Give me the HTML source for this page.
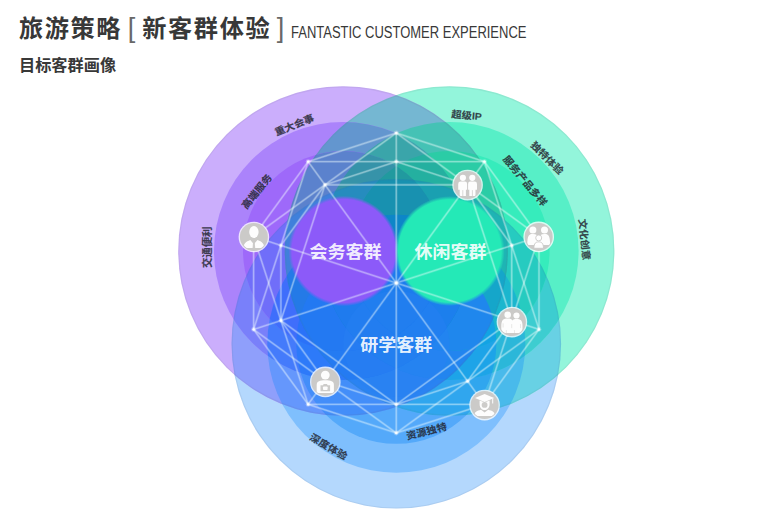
<!DOCTYPE html>
<html lang="zh"><head><meta charset="utf-8"><title>旅游策略</title>
<style>
html,body{margin:0;padding:0;background:#fff;}
body{width:760px;height:513px;overflow:hidden;position:relative;font-family:"Liberation Sans","Noto Sans CJK SC",sans-serif;}
svg{position:absolute;left:0;top:0;display:block}
.t1{position:absolute;left:19px;top:14.9px;white-space:nowrap;font-size:16px;color:#383838;line-height:1;}
.t1 span{display:inline-block;vertical-align:baseline}
.t1 .cn{font-size:24.2px;font-weight:700;letter-spacing:1.6px}
.t1 .br{font-size:27px;font-weight:400;color:#686868;position:relative;top:0.2px}
.t1 .en{position:relative;top:1.4px;font-size:15.8px;font-weight:400;letter-spacing:0px;margin-left:1.95px;transform:scaleX(0.822);transform-origin:0 50%}
.t2{position:absolute;left:19px;top:56.6px;font-size:16.2px;font-weight:700;color:#383838;line-height:1;white-space:nowrap;letter-spacing:0px}
.lab{font-family:"Liberation Sans","Noto Sans CJK SC",sans-serif;font-weight:700;font-size:10.4px;fill:#22242e;fill-opacity:0.84;stroke:#22242e;stroke-width:0.35;stroke-opacity:0.4;stroke-linejoin:round}
.big{font-family:"Liberation Sans","Noto Sans CJK SC",sans-serif;font-weight:700;font-size:18px;fill:#fff;fill-opacity:0.9}
</style></head><body>
<div class="t1"><span class="cn">旅游策略</span> <span class="br" style="margin-left:1.15px">[</span> <span class="cn" style="margin-left:2.55px">新客群体验</span> <span class="br" style="margin-left:1.15px">]</span> <span class="en">FANTASTIC CUSTOMER EXPERIENCE</span></div>
<div class="t2">目标客群画像</div>
<svg width="760" height="513" viewBox="0 0 760 513">
<defs>
<clipPath id="P1"><circle cx="343.0" cy="251.0" r="164.8"/></clipPath>
<clipPath id="P2"><circle cx="343.0" cy="251.0" r="129.0"/></clipPath>
<clipPath id="P3"><circle cx="343.0" cy="251.0" r="100.0"/></clipPath>
<clipPath id="P4"><circle cx="343.6" cy="251.0" r="53.4"/></clipPath>
<clipPath id="G1"><circle cx="449.6" cy="251.0" r="164.8"/></clipPath>
<clipPath id="G2"><circle cx="449.6" cy="251.0" r="129.0"/></clipPath>
<clipPath id="G3"><circle cx="449.6" cy="251.0" r="100.0"/></clipPath>
<clipPath id="G4"><circle cx="449.8" cy="251.0" r="53.1"/></clipPath>
<clipPath id="B1"><circle cx="396.3" cy="343.8" r="164.8"/></clipPath>
<clipPath id="B2"><circle cx="396.3" cy="343.8" r="129.0"/></clipPath>
<clipPath id="B3"><circle cx="396.3" cy="343.8" r="100.0"/></clipPath>
<clipPath id="B4"><circle cx="396.3" cy="344.0" r="53.0"/></clipPath>
<clipPath id="icclip"><circle r="13.100000000000001"/></clipPath>
<radialGradient id="gradP" cx="0.5" cy="0.5" r="0.5"><stop offset="0" stop-color="#8c5af9"/><stop offset="0.9348" stop-color="#8c5af9"/><stop offset="0.9674" stop-color="#8c5af9" stop-opacity="0.5"/><stop offset="1" stop-color="#8c5af9" stop-opacity="0"/></radialGradient>
<radialGradient id="gradG" cx="0.5" cy="0.5" r="0.5"><stop offset="0" stop-color="#24e9b7"/><stop offset="0.9344" stop-color="#24e9b7"/><stop offset="0.9672" stop-color="#24e9b7" stop-opacity="0.5"/><stop offset="1" stop-color="#24e9b7" stop-opacity="0"/></radialGradient>
</defs>
<g>
<circle cx="396.3" cy="343.8" r="164.8" fill="#b4d8fd"/>
<circle cx="449.6" cy="251.0" r="164.8" fill="#93f5db"/>
<circle cx="343.0" cy="251.0" r="164.8" fill="#cbaefc"/>
<circle cx="396.3" cy="343.8" r="129.0" fill="#7fbffd"/>
<g clip-path="url(#G1)"><circle cx="396.3" cy="343.8" r="164.8" fill="#68d1e4"/></g>
<circle cx="449.6" cy="251.0" r="129.0" fill="#57efc7"/>
<g clip-path="url(#P1)"><circle cx="396.3" cy="343.8" r="164.8" fill="#8f9ffb"/></g>
<g clip-path="url(#P1)"><circle cx="449.6" cy="251.0" r="164.8" fill="#75b7d2"/></g>
<circle cx="343.0" cy="251.0" r="129.0" fill="#ab83fb"/>
<circle cx="396.3" cy="343.8" r="100.0" fill="#54a9fa"/>
<g clip-path="url(#G1)"><circle cx="396.3" cy="343.8" r="129.0" fill="#49baeb"/></g>
<g clip-path="url(#G2)"><circle cx="396.3" cy="343.8" r="164.8" fill="#3dcdd0"/></g>
<circle cx="449.6" cy="251.0" r="100.0" fill="#36ecbc"/>
<g clip-path="url(#P1)"><circle cx="396.3" cy="343.8" r="129.0" fill="#6597fc"/></g>
<g clip-path="url(#G1)"><g clip-path="url(#P1)"><circle cx="396.3" cy="343.8" r="164.8" fill="#53a5de"/></g></g>
<g clip-path="url(#P1)"><circle cx="449.6" cy="251.0" r="129.0" fill="#45c2b5"/></g>
<g clip-path="url(#P2)"><circle cx="396.3" cy="343.8" r="164.8" fill="#7980fa"/></g>
<g clip-path="url(#P2)"><circle cx="449.6" cy="251.0" r="164.8" fill="#6396cf"/></g>
<circle cx="343.0" cy="251.0" r="100.0" fill="#9e69fa"/>
<circle cx="396.3" cy="344.0" r="53.0" fill="#4299f7"/>
<g clip-path="url(#G1)"><circle cx="396.3" cy="343.8" r="100.0" fill="#30a6ee"/></g>
<g clip-path="url(#G2)"><circle cx="396.3" cy="343.8" r="129.0" fill="#2bb7d9"/></g>
<g clip-path="url(#G3)"><circle cx="396.3" cy="343.8" r="164.8" fill="#26cbc0"/></g>
<g clip-path="url(#P1)"><circle cx="396.3" cy="343.8" r="100.0" fill="#438ef9"/></g>
<g clip-path="url(#G1)"><g clip-path="url(#P1)"><circle cx="396.3" cy="343.8" r="129.0" fill="#3a9be9"/></g></g>
<g clip-path="url(#G2)"><g clip-path="url(#P1)"><circle cx="396.3" cy="343.8" r="164.8" fill="#31adc5"/></g></g>
<g clip-path="url(#P1)"><circle cx="449.6" cy="251.0" r="100.0" fill="#2bcca6"/></g>
<g clip-path="url(#P2)"><circle cx="396.3" cy="343.8" r="129.0" fill="#447bfb"/></g>
<g clip-path="url(#G1)"><g clip-path="url(#P2)"><circle cx="396.3" cy="343.8" r="164.8" fill="#468edc"/></g></g>
<g clip-path="url(#P2)"><circle cx="449.6" cy="251.0" r="129.0" fill="#3aa5aa"/></g>
<g clip-path="url(#P3)"><circle cx="396.3" cy="343.8" r="164.8" fill="#706ef9"/></g>
<g clip-path="url(#P3)"><circle cx="449.6" cy="251.0" r="164.8" fill="#5b82cd"/></g>
<g clip-path="url(#G1)"><circle cx="396.3" cy="344.0" r="53.0" fill="#2d97f0"/></g>
<g clip-path="url(#G2)"><circle cx="396.3" cy="343.8" r="100.0" fill="#1da4e8"/></g>
<g clip-path="url(#G3)"><circle cx="396.3" cy="343.8" r="129.0" fill="#1bb6ce"/></g>
<g clip-path="url(#P1)"><circle cx="396.3" cy="344.0" r="53.0" fill="#3889f7"/></g>
<g clip-path="url(#G1)"><g clip-path="url(#P1)"><circle cx="396.3" cy="343.8" r="100.0" fill="#2a83f2"/></g></g>
<g clip-path="url(#G2)"><g clip-path="url(#P1)"><circle cx="396.3" cy="343.8" r="129.0" fill="#22a1d5"/></g></g>
<g clip-path="url(#G3)"><g clip-path="url(#P1)"><circle cx="396.3" cy="343.8" r="164.8" fill="#1eb4b4"/></g></g>
<g clip-path="url(#P2)"><circle cx="396.3" cy="343.8" r="100.0" fill="#2d7af9"/></g>
<g clip-path="url(#G1)"><g clip-path="url(#P2)"><circle cx="396.3" cy="343.8" r="129.0" fill="#2784e8"/></g></g>
<g clip-path="url(#G2)"><g clip-path="url(#P2)"><circle cx="396.3" cy="343.8" r="164.8" fill="#2998bf"/></g></g>
<g clip-path="url(#P2)"><circle cx="449.6" cy="251.0" r="100.0" fill="#24b0a0"/></g>
<g clip-path="url(#P3)"><circle cx="396.3" cy="343.8" r="129.0" fill="#3f6efb"/></g>
<g clip-path="url(#G1)"><g clip-path="url(#P3)"><circle cx="396.3" cy="343.8" r="164.8" fill="#4080db"/></g></g>
<g clip-path="url(#P3)"><circle cx="449.6" cy="251.0" r="129.0" fill="#3693a9"/></g>
<g clip-path="url(#G2)"><circle cx="396.3" cy="344.0" r="53.0" fill="#2195ec"/></g>
<g clip-path="url(#G3)"><circle cx="396.3" cy="343.8" r="100.0" fill="#12a3e4"/></g>
<g clip-path="url(#G1)"><g clip-path="url(#P1)"><circle cx="396.3" cy="344.0" r="53.0" fill="#2982f2"/></g></g>
<g clip-path="url(#G2)"><g clip-path="url(#P1)"><circle cx="396.3" cy="343.8" r="100.0" fill="#2285ef"/></g></g>
<g clip-path="url(#G3)"><g clip-path="url(#P1)"><circle cx="396.3" cy="343.8" r="129.0" fill="#15a6ca"/></g></g>
<g clip-path="url(#P2)"><circle cx="396.3" cy="344.0" r="53.0" fill="#2b7cf6"/></g>
<g clip-path="url(#G1)"><g clip-path="url(#P2)"><circle cx="396.3" cy="343.8" r="100.0" fill="#247bf2"/></g></g>
<g clip-path="url(#G2)"><g clip-path="url(#P2)"><circle cx="396.3" cy="343.8" r="129.0" fill="#178bd2"/></g></g>
<g clip-path="url(#G3)"><g clip-path="url(#P2)"><circle cx="396.3" cy="343.8" r="164.8" fill="#1aa0b1"/></g></g>
<g clip-path="url(#P3)"><circle cx="396.3" cy="343.8" r="100.0" fill="#2a72f8"/></g>
<g clip-path="url(#G1)"><g clip-path="url(#P3)"><circle cx="396.3" cy="343.8" r="129.0" fill="#247ae7"/></g></g>
<g clip-path="url(#G2)"><g clip-path="url(#P3)"><circle cx="396.3" cy="343.8" r="164.8" fill="#268cbe"/></g></g>
<g clip-path="url(#P3)"><circle cx="449.6" cy="251.0" r="100.0" fill="#219a9f"/></g>
<g clip-path="url(#G3)"><circle cx="396.3" cy="344.0" r="53.0" fill="#1b95ea"/></g>
<g clip-path="url(#G2)"><g clip-path="url(#P1)"><circle cx="396.3" cy="344.0" r="53.0" fill="#2583f1"/></g></g>
<g clip-path="url(#G3)"><g clip-path="url(#P1)"><circle cx="396.3" cy="343.8" r="100.0" fill="#1f87ed"/></g></g>
<g clip-path="url(#G1)"><g clip-path="url(#P2)"><circle cx="396.3" cy="344.0" r="53.0" fill="#267df2"/></g></g>
<g clip-path="url(#G2)"><g clip-path="url(#P2)"><circle cx="396.3" cy="343.8" r="100.0" fill="#1f7eef"/></g></g>
<g clip-path="url(#G3)"><g clip-path="url(#P2)"><circle cx="396.3" cy="343.8" r="129.0" fill="#0e90c8"/></g></g>
<g clip-path="url(#P3)"><circle cx="396.3" cy="344.0" r="53.0" fill="#2977f6"/></g>
<g clip-path="url(#G1)"><g clip-path="url(#P3)"><circle cx="396.3" cy="343.8" r="100.0" fill="#2379f2"/></g></g>
<g clip-path="url(#G2)"><g clip-path="url(#P3)"><circle cx="396.3" cy="343.8" r="129.0" fill="#1582d2"/></g></g>
<g clip-path="url(#G3)"><g clip-path="url(#P3)"><circle cx="396.3" cy="343.8" r="164.8" fill="#1891b0"/></g></g>
<g clip-path="url(#G3)"><g clip-path="url(#P1)"><circle cx="396.3" cy="344.0" r="53.0" fill="#2284f0"/></g></g>
<g clip-path="url(#G2)"><g clip-path="url(#P2)"><circle cx="396.3" cy="344.0" r="53.0" fill="#237ff0"/></g></g>
<g clip-path="url(#G3)"><g clip-path="url(#P2)"><circle cx="396.3" cy="343.8" r="100.0" fill="#1c7fed"/></g></g>
<g clip-path="url(#G1)"><g clip-path="url(#P3)"><circle cx="396.3" cy="344.0" r="53.0" fill="#257cf2"/></g></g>
<g clip-path="url(#G2)"><g clip-path="url(#P3)"><circle cx="396.3" cy="343.8" r="100.0" fill="#1f7bee"/></g></g>
<g clip-path="url(#G3)"><g clip-path="url(#P3)"><circle cx="396.3" cy="343.8" r="129.0" fill="#0d86c8"/></g></g>
<g clip-path="url(#G3)"><g clip-path="url(#P2)"><circle cx="396.3" cy="344.0" r="53.0" fill="#217ff0"/></g></g>
<g clip-path="url(#G2)"><g clip-path="url(#P3)"><circle cx="396.3" cy="344.0" r="53.0" fill="#227df0"/></g></g>
<g clip-path="url(#G3)"><g clip-path="url(#P3)"><circle cx="396.3" cy="343.8" r="100.0" fill="#1c7ced"/></g></g>
<g clip-path="url(#G3)"><g clip-path="url(#P3)"><circle cx="396.3" cy="344.0" r="53.0" fill="#217eef"/></g></g>
</g>
<circle cx="343.6" cy="251.0" r="55.199999999999996" fill="url(#gradP)"/>
<circle cx="449.8" cy="251.0" r="54.9" fill="url(#gradG)"/>
<circle cx="343.0" cy="251.0" r="164.20000000000002" fill="none" stroke="#6a6a80" stroke-opacity="0.1" stroke-width="1.2"/>
<circle cx="449.6" cy="251.0" r="164.20000000000002" fill="none" stroke="#5a8078" stroke-opacity="0.1" stroke-width="1.2"/>
<circle cx="396.3" cy="343.8" r="164.20000000000002" fill="none" stroke="#5a6a88" stroke-opacity="0.1" stroke-width="1.2"/>
<g stroke="#f4ffff" stroke-opacity="0.2" stroke-width="2.4" fill="none" stroke-linecap="round">
<line x1="396.3" y1="133.0" x2="484.5" y2="161.6"/>
<line x1="396.3" y1="133.0" x2="539.0" y2="236.6"/>
<line x1="396.3" y1="133.0" x2="396.3" y2="283.0"/>
<line x1="396.3" y1="161.6" x2="467.6" y2="184.8"/>
<line x1="484.5" y1="161.6" x2="539.0" y2="236.6"/>
<line x1="484.5" y1="161.6" x2="539.0" y2="329.4"/>
<line x1="484.5" y1="161.6" x2="396.3" y2="283.0"/>
<line x1="467.6" y1="184.8" x2="511.7" y2="245.5"/>
<line x1="539.0" y1="236.6" x2="539.0" y2="329.4"/>
<line x1="539.0" y1="236.6" x2="484.5" y2="404.4"/>
<line x1="539.0" y1="236.6" x2="396.3" y2="283.0"/>
<line x1="511.7" y1="245.5" x2="511.7" y2="320.5"/>
<line x1="539.0" y1="329.4" x2="484.5" y2="404.4"/>
<line x1="539.0" y1="329.4" x2="396.3" y2="433.0"/>
<line x1="539.0" y1="329.4" x2="396.3" y2="283.0"/>
<line x1="511.7" y1="320.5" x2="467.6" y2="381.2"/>
<line x1="484.5" y1="404.4" x2="396.3" y2="433.0"/>
<line x1="484.5" y1="404.4" x2="308.1" y2="404.4"/>
<line x1="484.5" y1="404.4" x2="396.3" y2="283.0"/>
<line x1="467.6" y1="381.2" x2="396.3" y2="404.4"/>
<line x1="396.3" y1="433.0" x2="308.1" y2="404.4"/>
<line x1="396.3" y1="433.0" x2="253.6" y2="329.4"/>
<line x1="396.3" y1="433.0" x2="396.3" y2="283.0"/>
<line x1="396.3" y1="404.4" x2="325.0" y2="381.2"/>
<line x1="308.1" y1="404.4" x2="253.6" y2="329.4"/>
<line x1="308.1" y1="404.4" x2="253.6" y2="236.6"/>
<line x1="308.1" y1="404.4" x2="396.3" y2="283.0"/>
<line x1="325.0" y1="381.2" x2="280.9" y2="320.5"/>
<line x1="253.6" y1="329.4" x2="253.6" y2="236.6"/>
<line x1="253.6" y1="329.4" x2="308.1" y2="161.6"/>
<line x1="253.6" y1="329.4" x2="396.3" y2="283.0"/>
<line x1="280.9" y1="320.5" x2="280.9" y2="245.5"/>
<line x1="253.6" y1="236.6" x2="308.1" y2="161.6"/>
<line x1="253.6" y1="236.6" x2="396.3" y2="133.0"/>
<line x1="253.6" y1="236.6" x2="396.3" y2="283.0"/>
<line x1="280.9" y1="245.5" x2="325.0" y2="184.8"/>
<line x1="308.1" y1="161.6" x2="396.3" y2="133.0"/>
<line x1="308.1" y1="161.6" x2="484.5" y2="161.6"/>
<line x1="308.1" y1="161.6" x2="396.3" y2="283.0"/>
<line x1="325.0" y1="184.8" x2="396.3" y2="161.6"/>
<line x1="467.6" y1="184.8" x2="511.7" y2="320.5"/>
<line x1="511.7" y1="320.5" x2="396.3" y2="404.4"/>
<line x1="396.3" y1="404.4" x2="280.9" y2="320.5"/>
<line x1="280.9" y1="320.5" x2="325.0" y2="184.8"/>
<line x1="325.0" y1="184.8" x2="467.6" y2="184.8"/>
</g>
<g stroke="#f4ffff" stroke-opacity="0.32" stroke-width="1.2" fill="none" stroke-linecap="round">
<line x1="396.3" y1="133.0" x2="484.5" y2="161.6"/>
<line x1="396.3" y1="133.0" x2="539.0" y2="236.6"/>
<line x1="396.3" y1="133.0" x2="396.3" y2="283.0"/>
<line x1="396.3" y1="161.6" x2="467.6" y2="184.8"/>
<line x1="484.5" y1="161.6" x2="539.0" y2="236.6"/>
<line x1="484.5" y1="161.6" x2="539.0" y2="329.4"/>
<line x1="484.5" y1="161.6" x2="396.3" y2="283.0"/>
<line x1="467.6" y1="184.8" x2="511.7" y2="245.5"/>
<line x1="539.0" y1="236.6" x2="539.0" y2="329.4"/>
<line x1="539.0" y1="236.6" x2="484.5" y2="404.4"/>
<line x1="539.0" y1="236.6" x2="396.3" y2="283.0"/>
<line x1="511.7" y1="245.5" x2="511.7" y2="320.5"/>
<line x1="539.0" y1="329.4" x2="484.5" y2="404.4"/>
<line x1="539.0" y1="329.4" x2="396.3" y2="433.0"/>
<line x1="539.0" y1="329.4" x2="396.3" y2="283.0"/>
<line x1="511.7" y1="320.5" x2="467.6" y2="381.2"/>
<line x1="484.5" y1="404.4" x2="396.3" y2="433.0"/>
<line x1="484.5" y1="404.4" x2="308.1" y2="404.4"/>
<line x1="484.5" y1="404.4" x2="396.3" y2="283.0"/>
<line x1="467.6" y1="381.2" x2="396.3" y2="404.4"/>
<line x1="396.3" y1="433.0" x2="308.1" y2="404.4"/>
<line x1="396.3" y1="433.0" x2="253.6" y2="329.4"/>
<line x1="396.3" y1="433.0" x2="396.3" y2="283.0"/>
<line x1="396.3" y1="404.4" x2="325.0" y2="381.2"/>
<line x1="308.1" y1="404.4" x2="253.6" y2="329.4"/>
<line x1="308.1" y1="404.4" x2="253.6" y2="236.6"/>
<line x1="308.1" y1="404.4" x2="396.3" y2="283.0"/>
<line x1="325.0" y1="381.2" x2="280.9" y2="320.5"/>
<line x1="253.6" y1="329.4" x2="253.6" y2="236.6"/>
<line x1="253.6" y1="329.4" x2="308.1" y2="161.6"/>
<line x1="253.6" y1="329.4" x2="396.3" y2="283.0"/>
<line x1="280.9" y1="320.5" x2="280.9" y2="245.5"/>
<line x1="253.6" y1="236.6" x2="308.1" y2="161.6"/>
<line x1="253.6" y1="236.6" x2="396.3" y2="133.0"/>
<line x1="253.6" y1="236.6" x2="396.3" y2="283.0"/>
<line x1="280.9" y1="245.5" x2="325.0" y2="184.8"/>
<line x1="308.1" y1="161.6" x2="396.3" y2="133.0"/>
<line x1="308.1" y1="161.6" x2="484.5" y2="161.6"/>
<line x1="308.1" y1="161.6" x2="396.3" y2="283.0"/>
<line x1="325.0" y1="184.8" x2="396.3" y2="161.6"/>
<line x1="467.6" y1="184.8" x2="511.7" y2="320.5"/>
<line x1="511.7" y1="320.5" x2="396.3" y2="404.4"/>
<line x1="396.3" y1="404.4" x2="280.9" y2="320.5"/>
<line x1="280.9" y1="320.5" x2="325.0" y2="184.8"/>
<line x1="325.0" y1="184.8" x2="467.6" y2="184.8"/>
</g>
<g fill="#fff">
<circle cx="396.3" cy="133.0" r="2.4" fill-opacity="0.3"/><circle cx="396.3" cy="133.0" r="1.2" fill-opacity="0.8"/>
<circle cx="484.5" cy="161.6" r="2.4" fill-opacity="0.3"/><circle cx="484.5" cy="161.6" r="1.2" fill-opacity="0.8"/>
<circle cx="539.0" cy="236.6" r="2.4" fill-opacity="0.3"/><circle cx="539.0" cy="236.6" r="1.2" fill-opacity="0.8"/>
<circle cx="539.0" cy="329.4" r="2.4" fill-opacity="0.3"/><circle cx="539.0" cy="329.4" r="1.2" fill-opacity="0.8"/>
<circle cx="484.5" cy="404.4" r="2.4" fill-opacity="0.3"/><circle cx="484.5" cy="404.4" r="1.2" fill-opacity="0.8"/>
<circle cx="396.3" cy="433.0" r="2.4" fill-opacity="0.3"/><circle cx="396.3" cy="433.0" r="1.2" fill-opacity="0.8"/>
<circle cx="308.1" cy="404.4" r="2.4" fill-opacity="0.3"/><circle cx="308.1" cy="404.4" r="1.2" fill-opacity="0.8"/>
<circle cx="253.6" cy="329.4" r="2.4" fill-opacity="0.3"/><circle cx="253.6" cy="329.4" r="1.2" fill-opacity="0.8"/>
<circle cx="253.6" cy="236.6" r="2.4" fill-opacity="0.3"/><circle cx="253.6" cy="236.6" r="1.2" fill-opacity="0.8"/>
<circle cx="308.1" cy="161.6" r="2.4" fill-opacity="0.3"/><circle cx="308.1" cy="161.6" r="1.2" fill-opacity="0.8"/>
<circle cx="396.3" cy="161.6" r="2.4" fill-opacity="0.3"/><circle cx="396.3" cy="161.6" r="1.2" fill-opacity="0.8"/>
<circle cx="467.6" cy="184.8" r="2.4" fill-opacity="0.3"/><circle cx="467.6" cy="184.8" r="1.2" fill-opacity="0.8"/>
<circle cx="511.7" cy="245.5" r="2.4" fill-opacity="0.3"/><circle cx="511.7" cy="245.5" r="1.2" fill-opacity="0.8"/>
<circle cx="511.7" cy="320.5" r="2.4" fill-opacity="0.3"/><circle cx="511.7" cy="320.5" r="1.2" fill-opacity="0.8"/>
<circle cx="467.6" cy="381.2" r="2.4" fill-opacity="0.3"/><circle cx="467.6" cy="381.2" r="1.2" fill-opacity="0.8"/>
<circle cx="396.3" cy="404.4" r="2.4" fill-opacity="0.3"/><circle cx="396.3" cy="404.4" r="1.2" fill-opacity="0.8"/>
<circle cx="325.0" cy="381.2" r="2.4" fill-opacity="0.3"/><circle cx="325.0" cy="381.2" r="1.2" fill-opacity="0.8"/>
<circle cx="280.9" cy="320.5" r="2.4" fill-opacity="0.3"/><circle cx="280.9" cy="320.5" r="1.2" fill-opacity="0.8"/>
<circle cx="280.9" cy="245.5" r="2.4" fill-opacity="0.3"/><circle cx="280.9" cy="245.5" r="1.2" fill-opacity="0.8"/>
<circle cx="325.0" cy="184.8" r="2.4" fill-opacity="0.3"/><circle cx="325.0" cy="184.8" r="1.2" fill-opacity="0.8"/>
<circle cx="396.3" cy="283.0" r="2.4" fill-opacity="0.3"/><circle cx="396.3" cy="283.0" r="1.2" fill-opacity="0.8"/>
</g>
<g transform="translate(253.9,237.0)"><circle r="15.3" fill="#fff" fill-opacity="0.8"/><circle r="14.0" fill="#cbcac8"/><g clip-path="url(#icclip)" fill-opacity="0.96"><ellipse cx="0" cy="-5" rx="4.7" ry="6.1" fill="#fff"/><path d="M-10.4 11 C-10.4 6.4 -8 4.8 -3.6 3 L0 7.2 L3.6 3 C8 4.8 10.4 6.4 10.4 11 Z" fill="#fff"/><path d="M-.8 4.6 L.8 4.6 L1.3 11 L-1.3 11 Z" fill="#cbcac8"/></g></g>
<g transform="translate(467.6,185.1)"><circle r="15.3" fill="#fff" fill-opacity="0.8"/><circle r="14.0" fill="#cbcac8"/><g clip-path="url(#icclip)" fill-opacity="0.96"><circle cx="-4.7" cy="-7.3" r="3.1" fill="#fff"/><circle cx="4.7" cy="-7.3" r="3.1" fill="#fff"/><path d="M-9.4 -1.2 Q-9.4 -3.6 -7 -3.6 L-2.6 -3.6 Q-.5 -3.6 -.5 -1.2 L-.5 4.6 L-1.7 4.6 L-1.7 11 L-7.9 11 L-7.9 4.6 L-9.4 4.6 Z" fill="#fff"/><path d="M9.4 -1.2 Q9.4 -3.6 7 -3.6 L2.6 -3.6 Q.5 -3.6 .5 -1.2 L.5 4.6 L1.7 4.6 L1.7 11 L7.9 11 L7.9 4.6 L9.4 4.6 Z" fill="#fff"/><path d="M-4.8 5 L-4.8 11 M4.8 5 L4.8 11" stroke="#cbcac8" stroke-width=".7"/></g></g>
<g transform="translate(538.7,236.9)"><circle r="15.3" fill="#fff" fill-opacity="0.8"/><circle r="14.0" fill="#cbcac8"/><g clip-path="url(#icclip)" fill-opacity="0.96"><circle cx="-5.8" cy="-7" r="3.5" fill="#fff"/><circle cx="5.8" cy="-7" r="3.5" fill="#fff"/><path d="M-11.4 8 C-11.4 -1.6 -9.6 -2.8 -5.8 -2.8 C-2.4 -2.8 -.6 -1.6 0 1 C.6 -1.6 2.4 -2.8 5.8 -2.8 C9.6 -2.8 11.4 -1.6 11.4 8 Z" fill="#fff"/><circle cx="0" cy="1" r="3" fill="#fff" stroke="#cbcac8" stroke-width=".9"/><path d="M-4.8 11.4 C-4.8 6.2 -2.8 5 0 5 C2.8 5 4.8 6.2 4.8 11.4 Z" fill="#fff" stroke="#cbcac8" stroke-width=".9"/></g></g>
<g transform="translate(511.9,322.1)"><circle r="15.3" fill="#fff" fill-opacity="0.8"/><circle r="14.0" fill="#cbcac8"/><g clip-path="url(#icclip)" fill-opacity="0.96"><circle cx="-4.2" cy="-7.4" r="3.3" fill="#fff"/><circle cx="4.6" cy="-6.6" r="3.1" fill="#fff"/><path d="M-10.6 4 C-10.6 -2.6 -8.2 -3.6 -4.2 -3.6 C-1.8 -3.6 -.4 -3.2 .5 -1.7 C1.3 -3 2.8 -3.2 4.6 -3.2 C8.6 -3.2 10.6 -2.2 10.6 4 L10.6 11 L-10.6 11 Z" fill="#fff"/><path d="M-8.8 1.2 L-8.8 5.4 M-.2 2 L-.2 6 M8.6 2 L8.6 6" stroke="#cbcac8" stroke-width=".6" stroke-opacity=".7"/><path d="M-5.6 8 L-5.6 11 M2.6 8 L2.6 11" stroke="#cbcac8" stroke-width=".6" stroke-opacity=".7"/></g></g>
<g transform="translate(325.3,381.9)"><circle r="15.3" fill="#fff" fill-opacity="0.8"/><circle r="14.0" fill="#cbcac8"/><g clip-path="url(#icclip)" fill-opacity="0.96"><circle cx="0" cy="-6.8" r="4.4" fill="#fff"/><path d="M-8.6 11 L-8.6 3 C-8.6 -.8 -5.4 -1.6 0 -1.6 C5.4 -1.6 8.6 -.8 8.6 3 L8.6 11 Z" fill="#fff"/><path d="M-4.8 3.4 L-2.4 3.4 L-1.6 2.2 L1.6 2.2 L2.4 3.4 L4.8 3.4 L4.8 9.4 L-4.8 9.4 Z" fill="#cbcac8"/><rect x="-2.3" y="4.6" width="4.6" height="3.6" rx=".8" fill="#fff"/></g></g>
<g transform="translate(484.6,405.1)"><circle r="15.3" fill="#fff" fill-opacity="0.8"/><circle r="14.0" fill="#cbcac8"/><g clip-path="url(#icclip)" fill-opacity="0.96"><path d="M-9.6 -7 L0 -11 L9.6 -7 L0 -3.2 Z" fill="#fff"/><path d="M-5 -4.6 L-5 -1 C-5 3 -2.4 5 0 5 C2.4 5 5 3 5 -1 L5 -4.6 L0 -2.6 Z" fill="#fff"/><circle cx="0" cy="-.2" r="2.9" fill="#cbcac8"/><path d="M-10.6 11 C-10.6 6.6 -7.4 5.6 -3.6 4.6 L0 7.4 L3.6 4.6 C7.4 5.6 10.6 6.6 10.6 11 Z" fill="#fff"/><rect x="7.6" y="-6.6" width="1" height="5" fill="#fff"/></g></g>
<text class="big" transform="translate(345.5,258.0) scale(1,0.93)" text-anchor="middle">会务客群</text>
<text class="big" transform="translate(450.5,258.0) scale(1,0.93)" text-anchor="middle">休闲客群</text>
<text class="big" transform="translate(396.3,351.2) scale(1,0.93)" text-anchor="middle">研学客群</text>
<text class="lab" transform="translate(294.4,125.2) rotate(-22) scale(1,0.94)" text-anchor="middle" dominant-baseline="central">重大会事</text>
<text class="lab" transform="translate(256.9,191.6) rotate(-51) scale(1,0.94)" text-anchor="middle" dominant-baseline="central">高端服务</text>
<text class="lab" transform="translate(207.4,247.3) rotate(-90) scale(1,0.94)" text-anchor="middle" dominant-baseline="central">交通便利</text>
<text class="lab" transform="translate(466.5,115.5) rotate(5) scale(1,0.94)" text-anchor="middle" dominant-baseline="central">超级IP</text>
<text class="lab" transform="translate(547,158) rotate(45) scale(1,0.94)" text-anchor="middle" dominant-baseline="central">独特体验</text>
<text class="lab" transform="translate(525,181) rotate(50) scale(1,0.94)" text-anchor="middle" dominant-baseline="central">服务产品多样</text>
<text class="lab" transform="translate(584.3,239.5) rotate(84) scale(1,0.94)" text-anchor="middle" dominant-baseline="central">文化创意</text>
<text class="lab" transform="translate(328.5,446.8) rotate(30) scale(1,0.94)" text-anchor="middle" dominant-baseline="central">深度体验</text>
<text class="lab" transform="translate(426.5,431.5) rotate(-14) scale(1,0.94)" text-anchor="middle" dominant-baseline="central">资源独特</text>
</svg></body></html>
